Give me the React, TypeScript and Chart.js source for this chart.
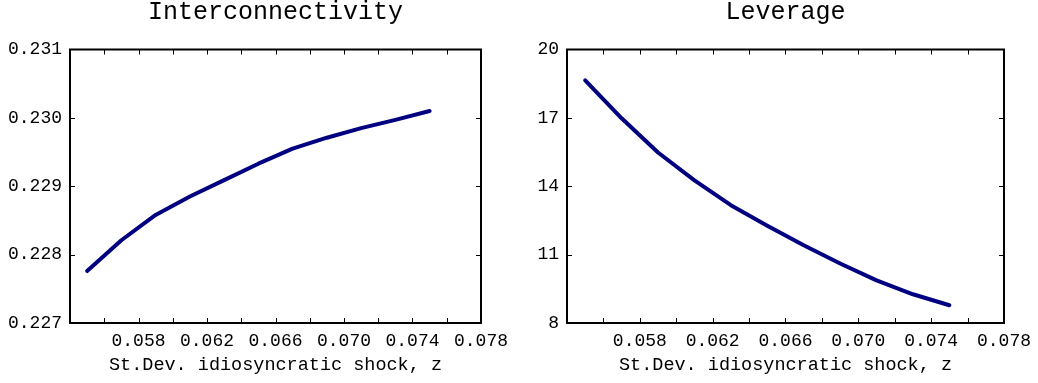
import React, { useEffect, useRef } from "react";
import { Chart, registerables } from "chart.js";

Chart.register(...registerables);

const shockSd = [0.055, 0.057, 0.059, 0.061, 0.063, 0.065, 0.067, 0.069, 0.071, 0.073, 0.075];
const interconnectivity = [0.22776, 0.22821, 0.22858, 0.22885, 0.22909, 0.22933, 0.22955, 0.22971, 0.22985, 0.22997, 0.2301];
const leverage = [18.65, 16.98, 15.48, 14.26, 13.17, 12.27, 11.41, 10.61, 9.87, 9.26, 8.78];

const xTitle = "St.Dev. idiosyncratic shock, z";
const xMin = 0.054;
const xMax = 0.078;
const xStep = 0.002;

const FONT = "'Liberation Mono', monospace";
const LINE = "#000080";

const framePlugin = {
  id: "frameTicks",
  afterDraw(chart: any, _args: any, opts: any) {
    const { ctx, chartArea } = chart;
    const xs = chart.scales.x;
    const ys = chart.scales.y;
    const L = chartArea.left, R = chartArea.right, T = chartArea.top, B = chartArea.bottom;
    ctx.save();
    ctx.strokeStyle = "#000";
    ctx.lineWidth = 1;
    const len = 5;
    ctx.beginPath();
    xs.ticks.forEach((t: any) => {
      const p = Math.round(xs.getPixelForValue(t.value)) + 0.5;
      if (p <= L + 2 || p >= R - 2) return;
      ctx.moveTo(p, B);
      ctx.lineTo(p, B - len);
      ctx.moveTo(p, T);
      ctx.lineTo(p, T + len);
    });
    ys.ticks.forEach((t: any) => {
      const p = Math.round(ys.getPixelForValue(t.value)) + 0.5;
      if (p <= T + 2 || p >= B - 2) return;
      ctx.moveTo(L, p);
      ctx.lineTo(L + len, p);
      ctx.moveTo(R, p);
      ctx.lineTo(R - len, p);
    });
    ctx.stroke();
    ctx.lineWidth = 2;
    ctx.strokeRect(L, T, R - L, B - T);
    if (opts && opts.text) {
      ctx.fillStyle = "#000";
      ctx.font = `25px ${FONT}`;
      ctx.textAlign = "center";
      ctx.textBaseline = "alphabetic";
      ctx.fillText(opts.text, (L + R) / 2, 19);
    }
    ctx.restore();
  },
};

type PanelProps = {
  title: string;
  values: number[];
  yMin: number;
  yMax: number;
  yStep: number;
  yDecimals: number;
  yAxisWidth: number;
  padRight: number;
  left: number;
  width: number;
};

function Panel(p: PanelProps) {
  const ref = useRef<HTMLCanvasElement | null>(null);
  useEffect(() => {
    if (!ref.current) return;
    const chart = new Chart(ref.current, {
      type: "line",
      data: {
        datasets: [
          {
            data: shockSd.map((x, i) => ({ x, y: p.values[i] })),
            borderColor: LINE,
            borderWidth: 4,
            pointRadius: 0,
            tension: 0,
            fill: false,
            borderCapStyle: "round",
            borderJoinStyle: "round",
          },
        ],
      },
      options: {
        animation: false,
        responsive: false,
        maintainAspectRatio: false,
        layout: { padding: { left: 0, right: p.padRight, top: 49.5, bottom: 0 } },
        plugins: {
          legend: { display: false },
          tooltip: { enabled: false },
          title: { display: false },
          frameTicks: { text: p.title },
        },
        scales: {
          x: {
            type: "linear",
            min: xMin,
            max: xMax,
            grid: { display: false, drawTicks: false },
            border: { display: false },
            ticks: {
              stepSize: xStep,
              autoSkip: false,
              maxRotation: 0,
              minRotation: 0,
              padding: 7,
              color: "#000",
              font: { family: FONT, size: 18 },
              callback: (v: any, i: number) => (i >= 2 && i % 2 === 0 ? Number(v).toFixed(3) : ""),
            },
            title: {
              display: true,
              text: xTitle,
              color: "#000",
              font: { family: FONT, size: 18.5, lineHeight: 1 },
              padding: { top: 0, bottom: 9 },
            },
            afterFit: (s: any) => {
              s.height = 60;
            },
          },
          y: {
            type: "linear",
            min: p.yMin,
            max: p.yMax,
            grid: { display: false, drawTicks: false },
            border: { display: false },
            ticks: {
              stepSize: p.yStep,
              padding: 8,
              color: "#000",
              font: { family: FONT, size: 18 },
              callback: (v: any) => Number(v).toFixed(p.yDecimals),
            },
            afterFit: (s: any) => {
              s.width = p.yAxisWidth;
            },
          },
        },
      },
      plugins: [framePlugin],
    } as any);
    return () => chart.destroy();
  }, []);
  return (
    <canvas
      ref={ref}
      width={p.width}
      height={383}
      style={{ position: "absolute", left: p.left, top: 0, width: p.width, height: 383 }}
    />
  );
}

export default function App() {
  return (
    <div style={{ position: "fixed", left: 0, top: 0, width: 1038, height: 383, background: "#fff" }}>
      <Panel
        title="Interconnectivity"
        values={interconnectivity}
        yMin={0.227}
        yMax={0.231}
        yStep={0.001}
        yDecimals={3}
        yAxisWidth={70}
        padRight={38}
        left={0}
        width={519}
      />
      <Panel
        title="Leverage"
        values={leverage}
        yMin={8}
        yMax={20}
        yStep={3}
        yDecimals={0}
        yAxisWidth={47}
        padRight={30}
        left={520}
        width={518}
      />
    </div>
  );
}
